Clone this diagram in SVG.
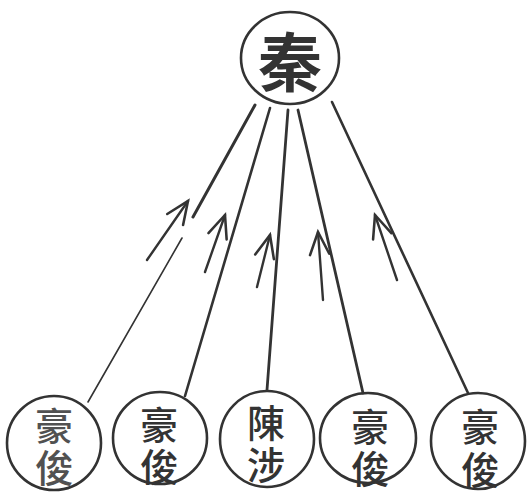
<svg xmlns="http://www.w3.org/2000/svg" width="527" height="493" viewBox="0 0 527 493">
<style>
.c{fill:none;stroke:#333;stroke-width:2.6}
.t{font-family:"Noto Sans CJK TC","Noto Sans CJK SC",sans-serif;fill:#333;text-anchor:middle;dominant-baseline:central}
.big{font-size:64px;font-weight:bold}
.sm{font-size:38px;font-weight:500}
.l{fill:none;stroke:#333;stroke-linecap:round}
.a{fill:none;stroke:#333;stroke-width:2.4;stroke-linecap:round;marker-end:url(#ah)}
</style>
<defs>
<marker id="ah" markerUnits="userSpaceOnUse" orient="auto" markerWidth="30" markerHeight="30" refX="0" refY="0" viewBox="-24 -12 28 24" overflow="visible">
<path d="M-21,-9 L0,0 L-21,9" fill="none" stroke="#333" stroke-width="2.4" stroke-linecap="round" stroke-linejoin="miter"/>
</marker>
</defs>
<rect width="527" height="493" fill="#fff"/>
<g id="qin">
<ellipse class="c" cx="290" cy="58" rx="49" ry="46"/>
<text class="t big" x="290" y="58">秦</text>
</g>
<g id="haojun1">
<ellipse class="c" cx="54" cy="443" rx="47" ry="47"/>
<text class="t sm" x="54" y="423" opacity="0.85">豪</text>
<text class="t sm" x="54" y="465" opacity="0.85">俊</text>
</g>
<g id="haojun2">
<ellipse class="c" cx="160" cy="438" rx="47" ry="46"/>
<text class="t sm" x="159" y="422">豪</text>
<text class="t sm" x="159" y="464">俊</text>
</g>
<g id="chensha">
<ellipse class="c" cx="267" cy="439" rx="47" ry="48"/>
<text class="t sm" x="266" y="420">陳</text>
<text class="t sm" x="266" y="462">涉</text>
</g>
<g id="haojun4">
<ellipse class="c" cx="368" cy="438" rx="48" ry="45"/>
<text class="t sm" x="370" y="424">豪</text>
<text class="t sm" x="370" y="466">俊</text>
</g>
<g id="haojun5">
<ellipse class="c" cx="478" cy="441" rx="47" ry="48"/>
<text class="t sm" x="480" y="424">豪</text>
<text class="t sm" x="480" y="467">俊</text>
</g>
<g id="connectors">
<line class="l" x1="88" y1="402" x2="182" y2="238" stroke-width="1.6"/>
<line class="l" x1="193" y1="217" x2="255" y2="105" stroke-width="3"/>
<line class="l" x1="185" y1="396" x2="270" y2="108" stroke-width="2.6"/>
<line class="l" x1="267" y1="390" x2="288" y2="110" stroke-width="2.8"/>
<line class="l" x1="363" y1="393" x2="298" y2="110" stroke-width="2.8"/>
<line class="l" x1="468" y1="393" x2="332" y2="102" stroke-width="2.6"/>
<line class="a" x1="147" y1="260" x2="188" y2="201"/>
<line class="a" x1="205" y1="272" x2="225" y2="215"/>
<line class="a" x1="257" y1="287" x2="270" y2="235"/>
<line class="a" x1="323" y1="300" x2="318" y2="232"/>
<line class="a" x1="397" y1="280" x2="375" y2="215"/>
</g>
</svg>
